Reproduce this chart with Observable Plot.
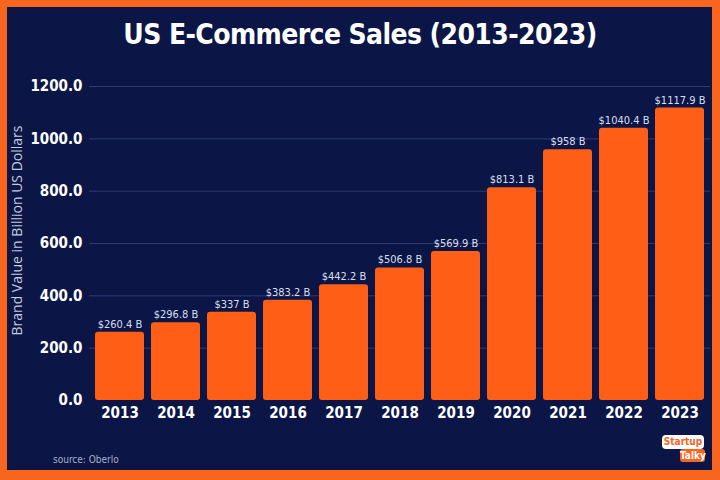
<!DOCTYPE html>
<html>
<head>
<meta charset="utf-8">
<script src="https://cdn.jsdelivr.net/npm/d3@7"></script>
<script src="https://cdn.jsdelivr.net/npm/@observablehq/plot@0.6"></script>
<style>
  html, body { margin: 0; padding: 0; }
  body { width: 720px; height: 480px; background: #f8651f; position: relative; overflow: hidden; }
  #panel { position: absolute; left: 7px; top: 7px; width: 705px; height: 463px; background: #0b1646; }
  #title { position: absolute; left: 0; top: 18px; width: 720px; text-align: center; color: #ffffff;
    font-family: "DejaVu Sans", sans-serif; font-stretch: condensed; font-weight: bold; font-size: 28px; letter-spacing: -0.6px; }
  #chart { position: absolute; left: 0; top: 0; }
  #source { position: absolute; left: 53px; top: 454px; color: #a9b0c8; font-family: "DejaVu Sans", sans-serif; font-stretch: condensed; font-size: 10px; }
  #logo { position: absolute; left: 662px; top: 435px; width: 46px; height: 30px; font-family: "DejaVu Sans", sans-serif; font-stretch: condensed; font-weight: bold; }
  #logo .a { position: absolute; left: 0; top: 0; width: 42px; text-align: center; background: #ffffff; color: #f8651f; font-size: 10px; border-radius: 4px; line-height: 14px; }
  #logo .b { position: absolute; left: 18px; top: 14px; width: 25px; text-align: center; background: #f8651f; color: #ffffff; font-size: 10px; border-radius: 3px; line-height: 13px; }
</style>
</head>
<body>
<div id="panel"></div>
<div id="chart"></div>
<div id="title">US E-Commerce Sales (2013-2023)</div>
<div id="source">source: Oberlo</div>
<div id="logo"><span class="a">Startup</span><span class="b">Talky</span></div>
<script>
const years = ["2013","2014","2015","2016","2017","2018","2019","2020","2021","2022","2023"];
const sales = [260.4, 296.8, 337, 383.2, 442.2, 506.8, 569.9, 813.1, 958, 1040.4, 1117.9];
const valueLabels = ["$260.4 B","$296.8 B","$337 B","$383.2 B","$442.2 B","$506.8 B","$569.9 B","$813.1 B","$958 B","$1040.4 B","$1117.9 B"];
const yTicks = [0, 200, 400, 600, 800, 1000, 1200];
const yLabel = "Brand Value in Billion US Dollars";

const data = years.map((y, i) => ({year: y, value: sales[i], label: valueLabels[i]}));

const chart = Plot.plot({
  width: 720,
  height: 480,
  marginTop: 86,
  marginBottom: 80,
  marginLeft: 89,
  marginRight: 10,
  style: {background: "transparent", color: "#ffffff", fontFamily: "'DejaVu Sans', sans-serif"},
  x: {domain: years, paddingInner: 0.13, paddingOuter: 0.065, label: null, tickSize: 0, tickPadding: 6},
  y: {domain: [0, 1200], label: null, ticks: yTicks, tickSize: 0, tickPadding: 7, tickFormat: d => d.toFixed(1)},
  marks: [
    Plot.ruleY(yTicks.filter(d => d > 0), {stroke: "#2f3a74", strokeWidth: 1}),
    Plot.barY(data, {x: "year", y: "value", fill: "#ff5e17", rx: 3}),
    Plot.text(data, {x: "year", y: "value", text: "label", dy: -8, fill: "#d9deee", fontSize: 11}),
    Plot.axisX({tickSize: 0, tickPadding: 7, fontSize: 15, fontWeight: "bold", fill: "#ffffff", label: null}),
    Plot.axisY({ticks: yTicks, tickSize: 0, tickPadding: 7, tickFormat: d => d.toFixed(1), fontSize: 15, fontWeight: "bold", fill: "#ffffff", label: null}),
    Plot.text([yLabel], {frameAnchor: "left", textAnchor: "middle", dx: -72, dy: -13, rotate: -90, fill: "#c4cadf", fontSize: 14, fontFamily: "'Open Sans', sans-serif"})
  ]
});
// condensed face for the numeric labels, like the reference
const texts = chart.querySelectorAll('g[aria-label="text"]');
if (texts[0]) texts[0].style.fontStretch = "condensed";
chart.querySelectorAll('g[aria-label$="tick label"]').forEach(g => g.style.fontStretch = "condensed");
document.getElementById("chart").appendChild(chart);
</script>
</body>
</html>
